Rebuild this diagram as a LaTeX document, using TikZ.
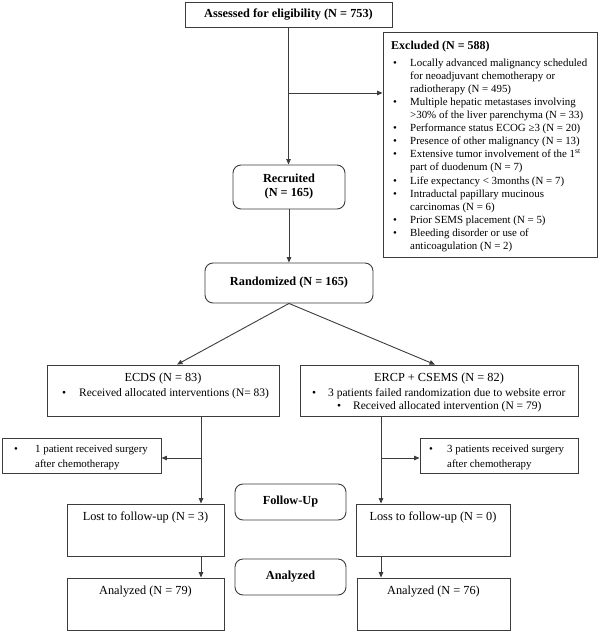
\documentclass[tikz,border=0pt]{standalone}
\usepackage{fontspec}
\setmainfont{Liberation Serif}
\usetikzlibrary{arrows.meta,calc}
\definecolor{lc}{RGB}{60,60,60}
\newcommand{\fsA}{\fontsize{10.9}{13.1}\selectfont}
\newcommand{\fsB}{\fontsize{11.5}{13.5}\selectfont}
\newcommand{\fsC}{\fontsize{12.3}{14}\selectfont}
\newcommand{\bul}[1]{\makebox[#1][l]{•}}
\begin{document}
\begin{tikzpicture}[x=1pt,y=-1pt,
  box/.style={draw=lc, line width=0.9pt, inner sep=0pt, font=\fsC},
  rbox/.style={box, rounded corners=8pt},
  txt/.style={inner sep=0pt, font=\fsC},
  arr/.style={draw=lc, line width=0.9pt, -{Triangle[length=5.5pt,width=4.5pt]}}]
\useasboundingbox (0,0) rectangle (600,633);
% boxes
\node[box, minimum width=207pt, minimum height=25pt, font=\fsC\bfseries] (assess) at (288.5,14.5) {Assessed for eligibility (N = 753)};
\node[box, minimum width=214pt, minimum height=225pt] (excl) at (490,144.5) {};
\node[rbox, minimum width=112pt, minimum height=44pt, font=\fsC\bfseries, align=center] (recr) at (289,187) {Recruited\\(N = 165)};
\node[rbox, minimum width=168pt, minimum height=40pt, font=\fsC\bfseries] (rand) at (289,283) {Randomized (N = 165)};
\node[box, minimum width=232pt, minimum height=51pt] (ecds) at (163,390.5) {};
\node[box, minimum width=278pt, minimum height=51pt] (ercp) at (439,390.5) {};
\node[box, minimum width=159pt, minimum height=35pt] (surgL) at (81.5,455.5) {};
\node[box, minimum width=158pt, minimum height=35pt] (surgR) at (499,455.5) {};
\node[box, minimum width=157pt, minimum height=52pt] (lost) at (145.5,530) {};
\node[box, minimum width=154pt, minimum height=52pt] (loss) at (433,530) {};
\node[rbox, minimum width=111pt, minimum height=36pt, font=\fsC\bfseries] (fu) at (290.5,502) {Follow-Up};
\node[rbox, minimum width=111pt, minimum height=36pt, font=\fsC\bfseries] (anz) at (290.5,577) {Analyzed};
\node[box, minimum width=157pt, minimum height=52pt] (anL) at (145.5,604) {};
\node[box, minimum width=153pt, minimum height=52pt] (anR) at (433.5,604) {};
% texts
\node[txt, font=\fsA, anchor=base west] (exT) at (391,49) {\begin{tabular}[t]{@{\hspace*{2pt}}p{17pt}@{}l@{}}
\multicolumn{2}{@{}l@{}}{\fontsize{12}{13.1}\selectfont\bfseries Excluded (N = 588)}\\[4pt]
• & Locally advanced malignancy scheduled\\
 & for neoadjuvant chemotherapy or\\
 & radiotherapy (N = 495)\\
• & Multiple hepatic metastases involving\\
 & >30\% of the liver parenchyma (N = 33)\\
• & Performance status ECOG ≥3 (N = 20)\\
• & Presence of other malignancy (N = 13)\\
• & Extensive tumor involvement of the 1\textsuperscript{st}\\
 & part of duodenum (N = 7)\\
• & Life expectancy < 3months (N = 7)\\
• & Intraductal papillary mucinous\\
 & carcinomas (N = 6)\\
• & Prior SEMS placement (N = 5)\\
• & Bleeding disorder or use of\\
 & anticoagulation (N = 2)
\end{tabular}};
\node[txt, anchor=base] (ecdsT) at (163,381) {ECDS (N = 83)};
\node[txt, font=\fsB, anchor=base west] (ecdsB) at (62,396) {\bul{17pt}Received allocated interventions (N= 83)};
\node[txt, anchor=base] (ercpT) at (439,381) {ERCP + CSEMS (N = 82)};
\node[txt, font=\fsB, anchor=base west] (ercpB1) at (312,396) {\bul{16pt}3 patients failed randomization due to website error};
\node[txt, font=\fsB, anchor=base west] (ercpB2) at (337,409) {\bul{16pt}Received allocated intervention (N = 79)};
\node[txt, font=\fsA, anchor=base west] (surgLT) at (14,452) {\begin{tabular}[t]{@{}p{21pt}@{}l@{}}• & 1 patient received surgery\\[1.9pt] & after chemotherapy\end{tabular}};
\node[txt, font=\fsA, anchor=base west] (surgRT) at (429,452) {\begin{tabular}[t]{@{}p{18pt}@{}l@{}}• & 3 patients received surgery\\[1.9pt] & after chemotherapy\end{tabular}};
\node[txt, anchor=base] (lostT) at (145.5,520) {Lost to follow-up (N = 3)};
\node[txt, anchor=base] (lossT) at (433,520) {Loss to follow-up (N = 0)};
\node[txt, anchor=base] (anLT) at (145.5,594) {Analyzed (N = 79)};
\node[txt, anchor=base] (anRT) at (433.5,594) {Analyzed (N = 76)};
% connectors
\coordinate (exj) at (288.5,93);
\coordinate (lj) at (201,458);
\coordinate (rj) at (381,458);
\draw[arr] (assess.south) -- (assess.south |- recr.north);
\draw[arr] (exj) -- (exj -| excl.west);
\draw[arr] (recr.south) -- (rand.north);
\draw[arr] (rand.south) -- ([xshift=14pt]ecds.north);
\draw[arr] (rand.south) -- ([xshift=-4pt]ercp.north);
\draw[arr] (ecds.south -| lj) -- (lost.north -| lj);
\draw[arr] (lj) -- (lj -| surgL.east);
\draw[arr] (lost.south -| lj) -- (anL.north -| lj);
\draw[arr] (ercp.south -| rj) -- (loss.north -| rj);
\draw[arr] (rj) -- (rj -| surgR.west);
\draw[arr] (loss.south -| rj) -- (anR.north -| rj);
\end{tikzpicture}
\end{document}
